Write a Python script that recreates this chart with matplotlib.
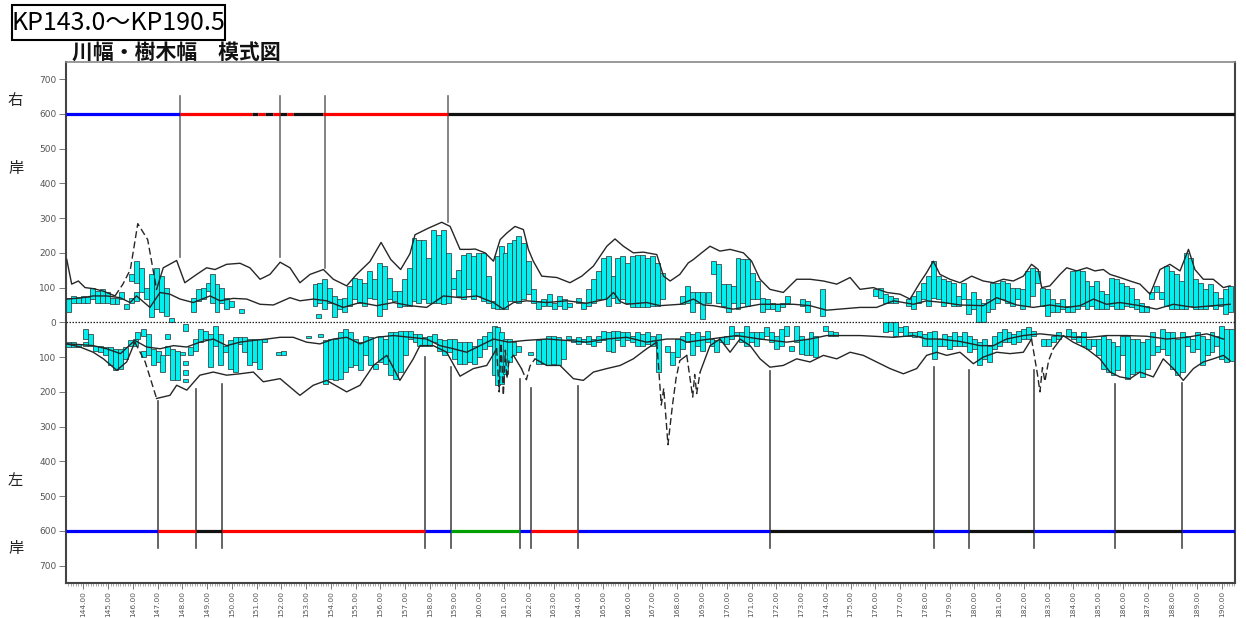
import numpy as np
import matplotlib
matplotlib.use("Agg")
import matplotlib.pyplot as plt
from matplotlib.patches import Rectangle

plt.rcParams['font.family'] = ['DejaVu Sans']
CJK = ['Noto Sans CJK JP', 'DejaVu Sans']

# ---------------- data ----------------
TITLE = 'KP143.0～KP190.5'
SUBTITLE = '川幅・樹木幅　模式図'
XLIM = (143.3, 190.53)
X_TICKS = list(range(144, 191))
Y_TICKS = list(range(-700, 701, 100))

# right bank tree bars (km, bottom, top)
R_BARS = [
(143.42,29,71),(143.6,55,75),(143.8,55,72),(144.0,57,76),(144.18,57,74),(144.36,67,100),(144.56,57,90),(144.76,57,95),
(144.96,55,86),(145.16,52,71),(145.36,52,71),(145.56,67,86),(145.76,38,52),(145.96,119,138),(145.96,57,71),(146.16,114,176),
(146.16,60,86),(146.36,86,157),(146.56,67,100),(146.76,14,138),(146.96,38,157),(147.16,29,133),(147.36,19,100),(147.56,2,12),
(148.46,29,71),(148.66,62,95),(148.86,67,100),(149.06,90,114),(149.2,57,138),(149.4,29,110),(149.6,57,100),(149.8,38,71),
(150.0,43,62),(150.4,27,38),
(153.36,48,110),(153.5,12,24),(153.56,57,114),(153.76,38,124),(153.96,57,100),(154.16,14,76),(154.36,38,67),(154.56,29,71),
(154.76,48,105),(154.96,67,129),(155.16,57,124),(155.36,48,114),(155.56,71,148),(155.76,67,124),(155.96,19,171),(156.16,38,162),
(156.36,67,129),(156.56,62,90),(156.76,43,90),(156.96,48,124),(157.16,48,157),(157.36,62,243),(157.56,57,238),(157.76,67,238),
(157.96,57,186),(158.16,57,267),(158.36,57,252),(158.56,52,267),(158.76,57,200),(158.96,95,129),(159.16,76,152),(159.36,67,195),
(159.56,95,200),(159.76,67,190),(159.96,76,200),(160.16,62,200),(160.36,57,133),(160.56,40,60),(160.73,38,190),(160.9,38,220),
(161.05,38,200),(161.2,62,229),(161.4,62,238),(161.6,57,248),(161.8,67,229),(162.0,81,176),(162.2,57,95),(162.4,38,62),
(162.6,48,67),(162.85,48,81),(163.05,38,57),(163.25,48,76),(163.45,38,67),(163.65,43,57),(164.0,57,71),(164.2,38,57),
(164.4,48,95),(164.6,57,124),(164.8,67,148),(165.0,67,186),(165.2,48,190),(165.4,71,133),(165.6,57,186),(165.8,67,190),
(166.0,57,171),(166.2,43,190),(166.4,43,195),(166.6,43,195),(166.8,43,186),(167.0,48,190),(167.2,48,171),(167.4,67,143),
(168.2,52,76),(168.4,57,105),(168.6,29,86),(168.8,57,86),(169.02,10,86),(169.25,57,86),(169.45,138,176),(169.65,57,167),
(169.85,48,110),(170.05,29,110),(170.25,57,105),(170.45,38,186),(170.65,57,181),(170.85,48,181),(171.05,67,143),(171.25,67,119),
(171.45,29,71),(171.65,38,67),(171.85,38,57),(172.05,33,52),(172.25,43,57),(172.45,57,76),(173.05,48,67),(173.25,29,62),
(173.85,19,95),
(176.0,76,95),(176.2,71,100),(176.4,57,81),(176.6,57,76),(176.8,57,71),(177.35,48,67),(177.55,38,76),(177.75,57,90),
(177.95,67,114),(178.15,48,133),(178.35,71,176),(178.55,67,133),(178.75,48,124),(178.95,57,119),(179.15,48,114),(179.35,48,76),
(179.55,67,114),(179.75,24,67),(179.95,38,86),(180.15,0,67),(180.35,0,57),(180.55,29,67),(180.75,38,114),(180.95,57,114),
(181.15,67,119),(181.35,57,114),(181.55,48,100),(181.75,67,100),(181.95,38,95),(182.15,48,148),(182.35,76,157),(182.55,114,148),
(182.75,48,100),(182.95,19,95),(183.15,29,67),(183.35,29,57),(183.55,38,67),(183.75,29,48),(183.95,29,148),(184.15,38,152),
(184.35,48,148),(184.55,38,119),(184.75,48,105),(184.95,38,119),(185.15,38,90),(185.35,38,81),(185.55,48,129),(185.75,38,124),
(185.95,38,114),(186.15,48,105),(186.35,43,100),(186.55,38,67),(186.75,29,57),(186.95,29,48),(187.15,67,86),(187.35,86,105),
(187.55,67,86),(187.75,48,162),(187.95,38,148),(188.15,38,138),(188.35,38,119),(188.55,38,200),(188.75,48,186),(188.95,38,124),
(189.15,38,114),(189.35,38,95),(189.55,48,110),(189.75,38,86),(189.95,48,71),(190.15,24,95),(190.33,30,105),
]

# left bank tree bars (km, near, far) - magnitudes below zero line
L_BARS = [
(143.4,57,71),(143.6,57,71),(143.8,62,71),(144.1,19,48),(144.1,57,67),(144.3,33,67),(144.5,67,81),(144.7,67,86),(144.9,71,95),
(145.1,71,124),(145.3,76,138),(145.5,76,133),(145.7,71,105),(145.9,52,67),(146.1,48,67),(146.2,29,48),(146.45,81,100),
(146.45,19,38),(146.65,33,95),(146.85,76,124),(147.05,81,114),(147.2,95,143),(147.4,33,48),(147.4,67,95),(147.6,76,167),
(147.8,81,167),(148.0,86,95),(148.13,5,24),(148.13,110,124),(148.13,138,152),(148.13,162,171),(148.33,71,95),(148.53,48,81),
(148.73,19,57),(148.93,24,48),(149.13,33,129),(149.33,10,67),(149.53,33,124),(149.73,67,86),(149.93,52,133),(150.13,43,143),
(150.33,43,62),(150.53,43,86),(150.73,48,124),(150.93,48,114),(151.13,48,133),(151.33,48,57),(151.9,86,95),(152.1,81,95),
(153.1,38,46),(153.6,33,43),(153.8,52,176),(154.0,48,162),(154.2,48,167),(154.4,29,162),(154.6,19,143),(154.8,29,129),
(155.0,48,124),(155.2,57,138),(155.4,38,95),(155.6,43,124),(155.8,119,133),(156.0,38,114),(156.2,48,119),(156.4,29,152),
(156.6,29,162),(156.8,24,143),(157.0,24,95),(157.2,24,48),(157.4,33,57),(157.6,33,67),(157.8,43,67),(158.0,38,67),
(158.2,33,57),(158.4,48,81),(158.6,52,95),(158.8,48,86),(159.0,48,105),(159.2,57,119),(159.4,57,119),(159.6,57,114),
(159.8,67,119),(160.0,48,100),(160.2,38,76),(160.4,29,67),(160.6,10,152),(160.75,14,181),(160.9,29,176),(161.05,48,150),
(161.2,48,114),(161.4,57,95),(161.6,67,86),(162.05,86,95),(162.4,52,119),(162.6,48,119),(162.8,38,124),(163.0,38,119),
(163.2,43,124),(163.4,52,105),(163.6,38,48),(163.8,48,57),(164.0,43,62),(164.2,48,57),(164.4,38,62),(164.6,48,67),
(164.8,38,57),(165.0,24,52),(165.2,29,81),(165.4,24,86),(165.6,24,52),(165.8,29,67),(166.0,29,52),(166.2,38,57),
(166.4,29,67),(166.6,33,67),(166.8,29,62),(167.0,38,67),(167.25,33,143),(167.6,67,86),(167.8,86,124),(168.0,48,100),
(168.2,38,76),(168.4,29,57),(168.6,33,95),(168.8,29,67),(169.0,38,81),(169.2,24,57),(169.4,48,67),(169.6,52,86),
(169.8,43,57),(170.0,38,62),(170.2,10,48),(170.4,29,38),(170.6,29,57),(170.8,10,67),(171.0,29,57),(171.2,29,67),
(171.4,29,48),(171.6,14,38),(171.8,29,57),(172.0,38,76),(172.2,19,67),(172.4,10,38),(172.6,67,81),(172.8,10,57),
(173.0,38,90),(173.2,48,95),(173.4,29,95),(173.6,38,100),(174.0,10,24),(174.2,24,38),(174.4,27,38),(176.4,0,29),
(176.6,0,24),(176.8,0,38),(177.0,14,29),(177.2,10,38),(177.4,29,38),(177.6,29,43),(177.8,24,38),(178.0,33,67),
(178.2,29,67),(178.4,24,105),(178.6,48,67),(178.8,33,67),(179.0,38,76),(179.2,29,67),(179.4,38,67),(179.6,29,67),
(179.8,38,86),(180.0,48,76),(180.2,57,124),(180.4,48,105),(180.6,67,114),(180.8,38,76),(181.0,29,67),(181.2,19,57),
(181.4,29,57),(181.6,33,62),(181.8,24,57),(182.0,19,48),(182.2,14,48),(182.4,24,38),(182.8,48,67),(183.0,48,67),
(183.2,38,57),(183.4,29,48),(183.8,19,38),(184.0,29,48),(184.2,38,57),(184.4,29,67),(184.6,48,76),(184.8,48,67),
(185.0,48,95),(185.2,38,133),(185.4,48,143),(185.6,57,152),(185.8,67,138),(186.0,38,95),(186.2,38,162),(186.4,48,148),
(186.6,48,143),(186.8,57,157),(187.0,48,133),(187.2,29,95),(187.4,67,86),(187.6,19,76),(187.8,29,95),(188.0,29,133),
(188.2,48,152),(188.4,29,143),(188.6,38,67),(188.8,48,86),(189.0,29,76),(189.2,38,124),(189.4,48,95),(189.6,29,86),
(189.8,38,67),(190.0,10,105),(190.2,19,114),(190.38,20,110),
]

# right bank outer line (solid parts, None = break)
R_OUT = [(143.33,181),(143.53,110),(143.8,119),(144.07,100),(144.4,97),(144.8,90),(145.28,76),None,
(146.96,95),(147.23,157),(147.77,178),(148.1,114),(148.58,138),(148.98,157),(149.32,152),(149.79,167),(150.33,170),
(150.73,157),(151.14,124),(151.54,138),(151.95,173),(152.35,157),(152.75,114),(153.16,138),(153.7,152),(154.1,124),
(154.64,105),(155.04,138),(155.58,175),(156.03,230),(156.42,181),(156.82,152),(157.2,198),(157.4,252),(157.94,271),
(158.48,288),(158.82,276),(159.22,210),(159.62,210),(159.83,211),(160.23,200),(160.57,176),(160.84,238),(161.11,257),
(161.44,276),(161.78,267),(161.98,210),(162.18,176),(162.52,133),(163.13,129),(163.66,114),(164.14,133),(164.61,162),
(165.15,219),(165.48,240),(165.82,219),(166.22,200),(166.63,202),(167.17,195),(167.44,133),(167.71,119),(168.1,138),
(168.44,171),(168.65,181),(168.98,200),(169.32,219),(169.72,205),(170.13,210),(170.67,200),(171.0,176),(171.34,124),
(171.74,95),(172.28,86),(172.82,124),(173.36,124),(173.9,119),(174.44,110),(174.98,129),(175.38,95),(175.92,100),
(176.46,86),(177.0,81),(177.4,67),(177.8,114),(178.07,143),(178.34,176),(178.61,138),(179.01,124),(179.42,114),
(179.89,133),(180.36,119),(180.77,114),(181.17,124),(181.57,119),(181.98,133),(182.31,167),(182.58,152),(182.72,100),
(183.05,105),(183.46,138),(183.73,157),(184.13,148),(184.54,157),(184.87,148),(185.21,152),(185.48,138),(185.88,129),
(186.29,119),(186.69,110),(187.1,81),(187.5,152),(187.9,167),(188.31,148),(188.65,210),(188.91,152),(189.25,124),
(189.65,124),(190.06,100),(190.33,105)]
R_OUT_DASH = [(145.28,76),(145.6,110),(145.9,152),(146.2,284),(146.6,238),(146.96,95)]

# right bank inner line
R_IN = [(143.33,67),(143.87,70),(144.4,76),(144.94,76),(145.48,71),(145.89,57),(146.15,76),(146.69,43),(147.1,86),
(147.5,81),(147.91,67),(148.44,57),(149.12,76),(149.52,62),(150.06,69),(150.6,67),(151.14,52),(151.68,50),(152.35,71),
(152.75,62),(153.29,67),(153.83,62),(154.5,43),(155.18,57),(155.85,48),(156.53,57),(157.2,48),(157.87,43),(158.55,76),
(159.22,71),(159.89,76),(160.57,57),(160.97,38),(161.38,57),(161.91,62),(162.72,57),(163.53,62),(164.34,55),(165.15,67),
(165.42,86),(165.69,60),(165.95,52),(166.76,57),(167.3,48),(168.11,52),(168.65,67),(169.05,50),(169.45,48),(170.26,38),
(171.34,52),(172.69,52),(173.36,48),(174.03,35),(175.38,43),(176.05,43),(176.73,62),(177.54,52),(178.07,62),(178.75,57),
(179.42,50),(180.36,48),(180.9,71),(181.71,50),(182.38,43),(183.05,50),(183.73,43),(184.27,48),(184.81,67),(185.34,52),
(185.88,57),(186.69,48),(187.36,38),(188.04,52),(188.85,43),(189.65,48),(190.33,52)]

# left bank outer line (magnitudes)
L_OUT = [(143.33,62),(143.87,71),(144.4,86),(144.81,105),(145.35,138),(145.75,114),(146.08,57),None,
(146.96,219),(147.5,210),(147.77,181),(148.18,195),(148.71,152),(149.25,143),(149.79,152),(150.33,148),(150.87,143),
(151.27,171),(151.95,162),(152.75,210),(153.29,181),(153.83,167),(154.64,200),(155.18,181),(155.72,124),(156.26,95),
(156.79,167),(157.33,105),(157.6,67),(158.14,67),(158.68,86),(159.22,155),(159.76,133),(160.3,124),(160.7,76),None,
(161.38,95),(161.7,133),None,(162.25,105),(162.72,124),(163.26,124),(163.8,162),(164.2,167),(164.61,143),
(165.15,133),(165.69,124),(166.22,105),(166.76,76),(167.17,57),None,(168.1,110),(168.38,95),None,
(168.92,143),(169.32,67),(169.72,48),(170.13,86),(170.53,48),(170.94,67),(171.34,105),(171.74,129),(172.28,124),
(172.82,105),(173.36,114),(173.9,95),(174.44,105),(174.98,86),(175.51,95),(176.05,114),(176.59,133),(177.13,148),
(177.67,133),(178.07,95),(178.48,86),(178.88,95),(179.42,86),(179.96,119),(180.36,100),(180.9,86),(181.44,90),
(181.98,86),(182.31,48),None,(183.19,76),(183.59,38),(183.99,57),(184.54,76),(185.07,105),(185.48,143),(185.88,157),
(186.29,162),(186.69,143),(187.23,157),(187.63,105),(188.04,133),(188.44,167),(188.85,133),(189.25,114),(189.65,105),
(190.06,95),(190.33,110)]
L_OUT_DASH = [(146.08,57),(146.5,114),(146.96,219),None,
(160.7,76),(160.8,200),(160.88,60),(160.97,210),(161.05,80),(161.11,162),(161.2,110),(161.38,95),None,
(161.7,133),(161.9,165),(162.05,125),(162.25,105),None,
(167.17,57),(167.35,238),(167.45,190),(167.62,352),(167.8,240),(167.95,160),(168.1,110),None,
(168.38,95),(168.55,180),(168.62,215),(168.7,150),(168.78,205),(168.92,143),None,
(182.31,48),(182.55,150),(182.65,200),(182.75,130),(182.85,170),(183.0,110),(183.19,76)]

# left bank inner line (magnitudes)
L_IN = [(143.33,62),(143.87,64),(144.4,67),(144.94,76),(145.5,90),(146.08,52),(146.56,71),(147.1,76),(147.64,67),
(148.18,71),(148.71,57),(149.25,48),(149.79,67),(150.33,57),(150.87,52),(151.41,48),(151.95,43),(152.48,43),(153.02,57),
(153.56,62),(154.1,48),(154.64,43),(155.18,62),(155.85,43),(156.53,38),(157.2,43),(157.87,48),(158.41,67),(158.95,76),
(159.49,86),(160.03,67),(160.57,48),(161.18,57),(161.87,52),(162.72,48),(163.53,52),(164.34,57),(165.15,48),(165.95,43),
(166.76,57),(167.57,48),(168.11,48),(168.38,57),(169.32,48),(170.4,38),(171.34,48),(172.42,57),(173.36,48),(174.03,38),
(175.38,38),(176.73,43),(177.54,38),(178.07,48),(178.61,48),(179.42,55),(180.23,67),(180.77,67),(181.3,48),(181.98,38),
(182.65,33),(183.32,38),(184.0,43),(184.67,43),(185.34,38),(186.15,38),(186.96,40),(187.77,48),(188.58,43),(189.39,33),
(190.06,48)]

# bank classification bands at +/-600 (start km, end km, colour)
BAND_LEVEL = 600
R_SEG = [(143.3,147.9,'blue'),(147.9,150.81,'red'),(150.81,151.05,'black'),(151.05,151.34,'red'),
(151.34,151.66,'black'),(151.66,151.94,'red'),(151.94,152.22,'black'),(152.22,152.47,'red'),
(152.47,153.7,'black'),(153.7,158.73,'red'),(158.73,190.53,'black')]
L_SEG = [(143.3,147.0,'blue'),(147.0,148.55,'red'),(148.55,149.6,'black'),(149.6,157.8,'red'),
(157.8,158.85,'blue'),(158.85,161.65,'green'),(161.65,162.1,'blue'),(162.1,164.0,'red'),
(164.0,171.75,'blue'),(171.75,178.35,'black'),(178.35,179.8,'blue'),(179.8,182.4,'black'),
(182.4,185.7,'blue'),(185.7,188.4,'black'),(188.4,190.53,'blue')]
# division markers (km, value where the marker meets the outer line)
DIV_TOP = 650
R_DIV = [(147.9,189),(151.93,187),(153.76,157),(158.73,289)]
L_DIV = [(147.0,225),(148.55,191),(149.6,176),(157.8,99),(158.85,129),(161.65,162),(162.1,188),
(164.0,183),(171.75,140),(178.35,129),(179.8,138),(182.4,138),(185.7,176),(188.4,175)]

SEG_COLORS = {'blue': '#0000ff', 'red': '#ff0000', 'green': '#00a000', 'black': '#111111'}


def xy(pts, sign=1):
    xs = [p[0] if p is not None else np.nan for p in pts]
    ys = [sign * p[1] if p is not None else np.nan for p in pts]
    return np.array(xs), np.array(ys)


# ---------------- figure ----------------
W, H = 1246, 618
fig = plt.figure(figsize=(W / 100, H / 100), dpi=100)
ax = fig.add_axes([66 / W, 1 - 583 / H, (1235 - 66) / W, (583 - 61.7) / H])

bar_fc = '#00f0f0'
bar_ec = '#2a2a2a'

rk = np.array([b[0] for b in R_BARS]); rlo = np.array([b[1] for b in R_BARS]); rhi = np.array([b[2] for b in R_BARS])
ax.bar(rk, rhi - rlo, bottom=rlo, width=0.2, color=bar_fc, edgecolor=bar_ec, linewidth=0.5, zorder=2)
lk = np.array([b[0] for b in L_BARS]); llo = np.array([b[1] for b in L_BARS]); lhi = np.array([b[2] for b in L_BARS])
ax.bar(lk, lhi - llo, bottom=-lhi, width=0.2, color=bar_fc, edgecolor=bar_ec, linewidth=0.5, zorder=2)

line_c = '#262626'
x, y = xy(R_OUT); ax.plot(x, y, color=line_c, lw=1.0, zorder=3)
x, y = xy(R_OUT_DASH); ax.plot(x, y, color=line_c, lw=1.0, ls=(0, (5, 2.5)), zorder=3)
x, y = xy(R_IN); ax.plot(x, y, color=line_c, lw=1.0, zorder=3)
x, y = xy(L_OUT, -1); ax.plot(x, y, color=line_c, lw=1.0, zorder=3)
x, y = xy(L_OUT_DASH, -1); ax.plot(x, y, color=line_c, lw=1.0, ls=(0, (5, 2.5)), zorder=3)
x, y = xy(L_IN, -1); ax.plot(x, y, color=line_c, lw=1.0, zorder=3)

ax.axhline(0, color='#222222', lw=0.9, ls=(0, (1.2, 1.2)), zorder=3)

for k, v in R_DIV:
    ax.plot([k, k], [DIV_TOP, v], color='#6e6e6e', lw=1.2, zorder=3)
for k, v in L_DIV:
    ax.plot([k, k], [-DIV_TOP, -v], color='#4a4a4a', lw=1.2, zorder=3)

for a, b, c in R_SEG:
    ax.plot([a, b], [BAND_LEVEL, BAND_LEVEL], color=SEG_COLORS[c], lw=2.3, solid_capstyle='butt', zorder=4)
for a, b, c in L_SEG:
    ax.plot([a, b], [-BAND_LEVEL, -BAND_LEVEL], color=SEG_COLORS[c], lw=2.3, solid_capstyle='butt', zorder=4)

ax.set_xlim(*XLIM)
ax.set_ylim(-750, 750)
ax.set_xticks(X_TICKS)
ax.set_xticklabels(['%.2f' % t for t in X_TICKS], rotation=90, fontsize=5.4, color='#555555')
ax.set_xticks(np.arange(143.4, 190.55, 0.1), minor=True)
ax.set_yticks(Y_TICKS)
ax.set_yticklabels([str(abs(t)) for t in Y_TICKS], fontsize=6.5, color='#555555')
ax.tick_params(axis='x', which='major', length=4, width=0.7, color='#777777', pad=1.5)
ax.tick_params(axis='x', which='minor', length=2.5, width=0.5, color='#888888')
ax.tick_params(axis='y', which='major', length=5, width=0.7, color='#777777', pad=2)
for s in ['left', 'bottom', 'right']:
    ax.spines[s].set_color('#444444'); ax.spines[s].set_linewidth(1.5)
ax.spines['top'].set_color('#888888'); ax.spines['top'].set_linewidth(1.2)

# titles
fig.add_artist(Rectangle((12 / W, 1 - 40 / H), 213 / W, 35 / H, transform=fig.transFigure,
                         fill=False, edgecolor='black', lw=1.5))
fig.text(118.5 / W, 1 - 23 / H, TITLE, ha='center', va='center', fontsize=18, family=CJK, color='black')
fig.text(72 / W, 1 - 52 / H, SUBTITLE, ha='left', va='center', fontsize=15, family=CJK,
         color='#111111', weight='bold')
for ch, yy in [('右', 100), ('岸', 168), ('左', 480), ('岸', 548)]:
    fig.text(8 / W, 1 - yy / H, ch, ha='left', va='center', fontsize=11, family=CJK, color='#222222')

fig.savefig('out.png', dpi=100)
